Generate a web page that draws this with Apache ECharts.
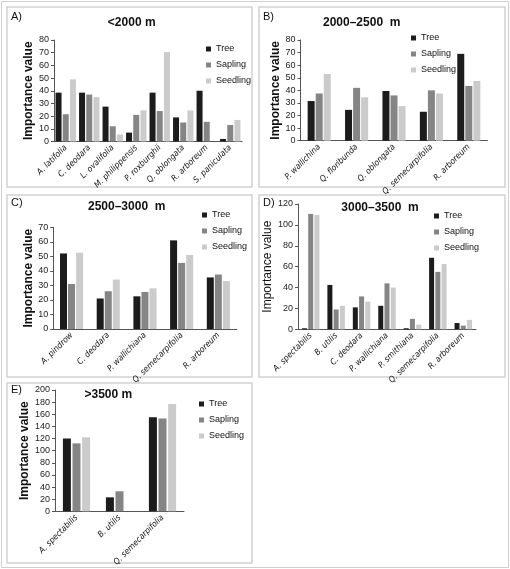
<!DOCTYPE html>
<html><head><meta charset="utf-8">
<script src="https://cdn.jsdelivr.net/npm/echarts@6/dist/echarts.min.js"></script>
<style>html,body{margin:0;padding:0;background:#fff}#c{width:510px;height:569px}</style>
</head><body><div id="c"></div>
<script>
const seriesNames = ['Tree','Sapling','Seedling'];
const colors = ['#1c1c1c','#858585','#cbcbcb'];

const catsA = ['A. latifolia','C. deodara','L. ovalifolia','M. philippensis','P. roxburghii','Q. oblongata','R. arboreum','S. paniculata'];
const treeA = [38.5,38.5,27.5,7,38.5,19,40,2];
const saplingA = [21.5,37,12,21,24,15,15.5,13];
const seedlingA = [49,35,5.5,24.5,70.5,24.5,0,17];

const catsB = ['P. wallichina','Q. floribunda','Q. oblongata','Q. semecarpifolia','R. arboreum'];
const treeB = [31.5,24.5,39.5,23,69];
const saplingB = [37.5,42,36,40,43.5];
const seedlingB = [53,34.5,27.5,37.5,47.5];

const catsC = ['A. pindrow','C. deodara','P. wallichiana','Q. semecarpifolia','R. arboreum'];
const treeC = [52,21,22.5,61,35.5];
const saplingC = [31,26,25.5,45.5,37.5];
const seedlingC = [52.5,34,28,51,33];

const catsD = ['A. spectabilis','B. utilis','C. deodara','P. wallichiana','P. smithiana','Q. semecarpifolia','R. arboreum'];
const treeD = [1,42.5,21,22.5,1,68.5,6];
const saplingD = [110.5,19,31.5,44,10,55,3.5];
const seedlingD = [109.5,22.5,26.5,40,4.5,62.5,9];

const catsE = ['A. spectabilis','B. utilis','Q. semecarpifolia'];
const treeE = [120,23,155];
const saplingE = [112,33,153];
const seedlingE = [122,0,177];

const yMax = [80,80,70,120,200];
const yStep = [10,10,10,20,20];
const panelTitles = ['<2000 m','2000\u20132500  m','2500\u20133000  m','3000\u20133500  m','>3500 m'];
const panelLetters = ['A)','B)','C)','D)','E)'];

const panels = [
  {cats:catsA, data:[treeA,saplingA,seedlingA]},
  {cats:catsB, data:[treeB,saplingB,seedlingB]},
  {cats:catsC, data:[treeC,saplingC,seedlingC]},
  {cats:catsD, data:[treeD,saplingD,seedlingD]},
  {cats:catsE, data:[treeE,saplingE,seedlingE]}
];

// layout
const grids = [
  {left:54, top:40, width:188, height:101.5},
  {left:300.5, top:40, width:187, height:100.7},
  {left:53.2, top:227.3, width:183.5, height:101.7},
  {left:298, top:204, width:178, height:125.3},
  {left:55, top:390, width:129, height:125.7}
];
const barW = [6,7,7,5,8];
const barGaps = ['20%','15%','15%','25%','20%'];
const nameGaps = [17,16,17,14,19];
const nameWeights = ['bold','bold','bold','normal','bold'];
const legendPos = [{left:201,top:38},{left:406,top:27},{left:197,top:204},{left:429,top:205},{left:194,top:393}];
const titlePos = [[131.7,22.7],[361.7,22.7],[126.7,206.7],[380,207.7],[108.3,395]];
const letterPos = [[11,17],[263,17],[11,203],[263,203],[11,390]];
const boxes = [[7,7,245,180],[259,7,246,180],[7,195,245,182],[259,195,246,182],[7,383,245,180]];

const font = 'Liberation Sans, Open Sans, sans-serif';
const xAxis = [], yAxis = [], series = [], legend = [], graphic = [];

graphic.push({type:'rect', shape:{x:1.5,y:1.5,width:507,height:566}, style:{fill:'#fff', stroke:'#cfcfcf', lineWidth:1}, z:-10});
boxes.forEach(b => graphic.push({type:'rect', shape:{x:b[0],y:b[1],width:b[2],height:b[3]}, style:{fill:'#fff', stroke:'#d2d2d2', lineWidth:1.5}, z:-9}));
panelTitles.forEach((t,i) => graphic.push({type:'text', x:titlePos[i][0], y:titlePos[i][1],
  style:{text:t, fontFamily:font, fontWeight:'bold', fontSize:12, fill:'#111', textAlign:'center', textVerticalAlign:'middle'}}));
panelLetters.forEach((t,i) => graphic.push({type:'text', x:letterPos[i][0], y:letterPos[i][1],
  style:{text:t, fontFamily:font, fontSize:11, fill:'#111', textAlign:'left', textVerticalAlign:'middle'}}));

panels.forEach((p,i) => {
  xAxis.push({type:'category', gridIndex:i, data:p.cats,
    axisLine:{lineStyle:{color:'#555', width:1}}, axisTick:{show:false},
    axisLabel:{interval:0, rotate:45, fontSize:8.5, fontStyle:'italic', fontFamily:'DejaVu Sans Condensed, Liberation Sans Narrow, Liberation Sans, sans-serif', color:'#111', margin:5}});
  yAxis.push({type:'value', gridIndex:i, min:0, max:yMax[i], interval:yStep[i],
    name:'Importance value', nameLocation:'middle', nameGap:nameGaps[i],
    nameTextStyle:{fontFamily:font, fontSize:12, fontWeight:nameWeights[i], color:'#111'},
    axisLine:{show:true, lineStyle:{color:'#555', width:1}},
    axisTick:{show:true, length:3, lineStyle:{color:'#555'}},
    splitLine:{show:false},
    axisLabel:{fontSize:9, fontFamily:font, color:'#222', margin:5}});
  seriesNames.forEach((n,k) => series.push({type:'bar', name:n, xAxisIndex:i, yAxisIndex:i,
    data:p.data[k], barWidth:barW[i], barGap:barGaps[i], itemStyle:{color:colors[k]}, animation:false}));
  legend.push({orient:'vertical', left:legendPos[i].left, top:legendPos[i].top, data:seriesNames,
    itemWidth:5, itemHeight:5, itemGap:4, icon:'rect', selectedMode:false,
    textStyle:{fontSize:9, fontFamily:font, color:'#111', lineHeight:12}});
});

const chart = echarts.init(document.getElementById('c'), null, {renderer:'canvas'});
chart.setOption({
  animation:false,
  backgroundColor:'#fff',
  grid: grids,
  xAxis, yAxis, series, legend, graphic
});
</script></body></html>
